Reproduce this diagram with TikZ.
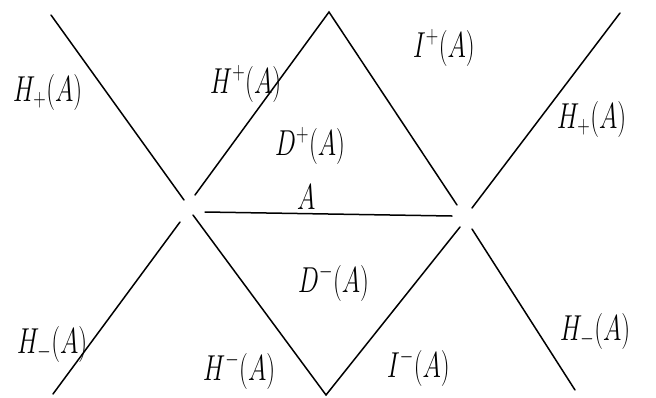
\documentclass[tikz,border=0pt]{standalone}
\usetikzlibrary{calc}
\newcommand{\etire}[1]{\scalebox{1}[1.45]{#1}}
\begin{document}
\begin{tikzpicture}[x=1pt,y=-1pt,
	bord/.style={line width=1.5pt,line cap=round},
	etiq/.style={font=\fontsize{27}{30}\selectfont,inner sep=0pt,anchor=base west}]
	\useasboundingbox (0,0) rectangle (656,397);
	% extremites des bords
	\coordinate (ga) at (51,15);
	\coordinate (gb) at (184,200);
	\coordinate (gc) at (195,195);
	\coordinate (sommet) at (329,12);
	\coordinate (gd) at (180,222);
	\coordinate (ge) at (53,394);
	\coordinate (gf) at (193,215);
	\coordinate (fond) at (326,395);
	\coordinate (da) at (457,205);
	\coordinate (db) at (472,208);
	\coordinate (dc) at (620,13);
	\coordinate (dd) at (460,227);
	\coordinate (de) at (472,229);
	\coordinate (df) at (575,390);
	\coordinate (aa) at (205,212);
	\coordinate (ab) at (452,216);
	\draw[bord] (ga) -- (gb) (gc) -- (sommet) -- (da) (db) -- (dc);
	\draw[bord] (gd) -- (ge) (gf) -- (fond) -- (dd) (de) -- (df);
	\draw[bord] (aa) -- (ab);
	% etiquettes
	\node[etiq] (hpg) at (13,101) {\etire{$H_+(A)$}};
	\node[etiq] (hplus) at (210,93) {\etire{$H^+(A)$}};
	\node[etiq] (dplus) at (275,155) {\etire{$D^+(A)$}};
	\node[etiq] (a) at (297,209) {\etire{$A$}};
	\node[etiq] (iplus) at (413,57) {\etire{$I^+(A)$}};
	\node[etiq] (hpd) at (557,128) {\etire{$H_+(A)$}};
	\node[etiq] (hmg) at (17,353) {\etire{$H_-(A)$}};
	\node[etiq] (hmoins) at (203,380) {\etire{$H^-(A)$}};
	\node[etiq] (dmoins) at (298,292) {\etire{$D^-(A)$}};
	\node[etiq] (imoins) at (387,377) {\etire{$I^-(A)$}};
	\node[etiq] (hmd) at (560,340) {\etire{$H_-(A)$}};
\end{tikzpicture}
\end{document}
